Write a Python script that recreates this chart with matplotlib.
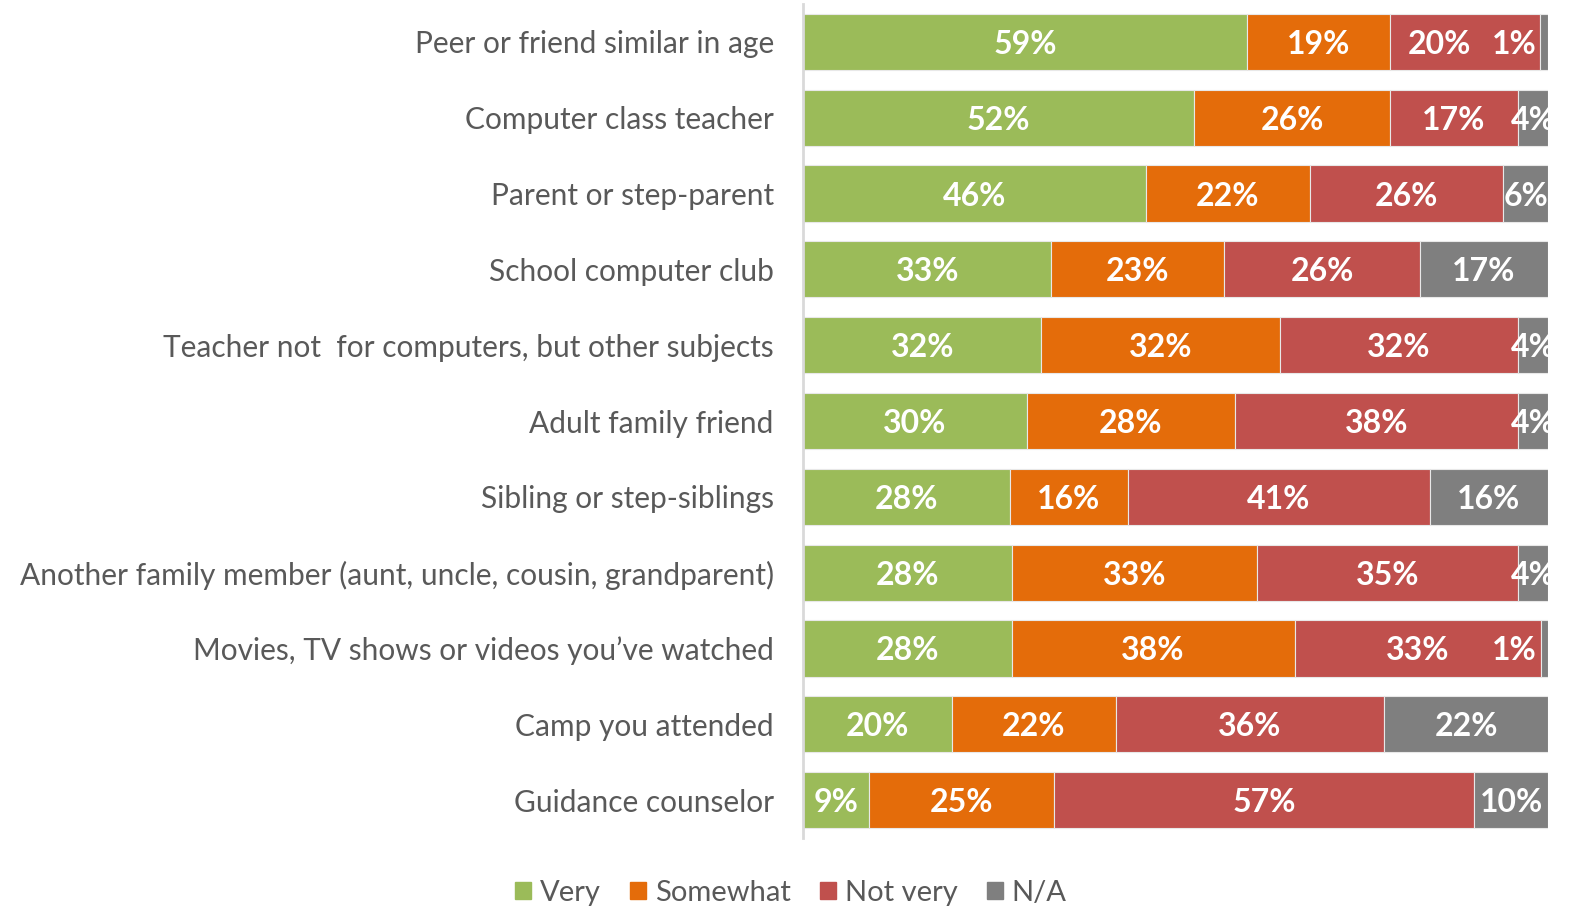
import numpy as np
import matplotlib.pyplot as plt
from matplotlib.patches import Patch

# survey answers, top row first
categories = [
    "Peer or friend similar in age",
    "Computer class teacher",
    "Parent or step-parent",
    "School computer club",
    "Teacher not  for computers, but other subjects",
    "Adult family friend",
    "Sibling or step-siblings",
    "Another family member (aunt, uncle, cousin, grandparent)",
    "Movies, TV shows or videos you\u2019ve watched",
    "Camp you attended",
    "Guidance counselor",
]
very = [59, 52, 46, 33, 32, 30, 28, 28, 28, 20, 9]
somewhat = [19, 26, 22, 23, 32, 28, 16, 33, 38, 22, 25]
not_very = [20, 17, 26, 26, 32, 38, 41, 35, 33, 36, 57]
na = [1, 4, 6, 17, 4, 4, 16, 4, 1, 22, 10]

series = ["Very", "Somewhat", "Not very", "N/A"]
colors = ["#9BBB59", "#E46C0A", "#C0504D", "#7F7F7F"]

plt.rcParams['font.family'] = ['Lato', 'DejaVu Sans']

data = np.array([very, somewhat, not_very, na], dtype=float)
totals = data.sum(axis=0)
shares = data / totals * 100  # 100% stacked
lefts = np.cumsum(shares, axis=0) - shares

# label positions: centre of segment, tiny segments get their label pulled inside
cxs = lefts + shares / 2
tiny = data <= 1
cxs[tiny] = lefts[tiny] - 3.5
for k in range(3):
    for i in range(len(categories)):
        if tiny[k + 1, i]:
            cxs[k, i] = min(cxs[k, i], cxs[k + 1, i] - 10)

fig = plt.figure(figsize=(15.72, 9.11), dpi=100)
ax = fig.add_axes([803 / 1572, 1 - 838 / 911, (1548 - 803) / 1572, (838 - 4) / 911])

y = np.arange(len(categories))
for k in range(4):
    ax.barh(y, shares[k], left=lefts[k], height=0.74, color=colors[k],
            edgecolor="#e8e8e8", linewidth=0.8, label=series[k])
    for i in range(len(categories)):
        ax.text(cxs[k, i], y[i], f"{int(data[k, i])}%", ha="center", va="center_baseline",
                color="white", fontsize=23, fontweight="bold", clip_on=True)

ax.set_xlim(0, 100)
ax.set_ylim(len(categories) - 0.5, -0.5)
ax.set_yticks(y)
ax.set_yticklabels(categories, fontsize=21.5, color="#595959")
ax.tick_params(axis="y", length=0, pad=21)
ax.set_xticks([])
for s in ["top", "right", "bottom"]:
    ax.spines[s].set_visible(False)
ax.spines["left"].set_color("#d9d9d9")
ax.spines["left"].set_linewidth(2)

handles = [Patch(color=c, label=s) for c, s in zip(colors, series)]
fig.legend(handles=handles, loc="center", bbox_to_anchor=(0.503, 1 - 893 / 911),
           ncol=4, frameon=False, fontsize=21, handlelength=0.55, handleheight=0.55,
           handletextpad=0.3, columnspacing=1.0, labelcolor="#595959")

fig.savefig("out.png", dpi=100)
